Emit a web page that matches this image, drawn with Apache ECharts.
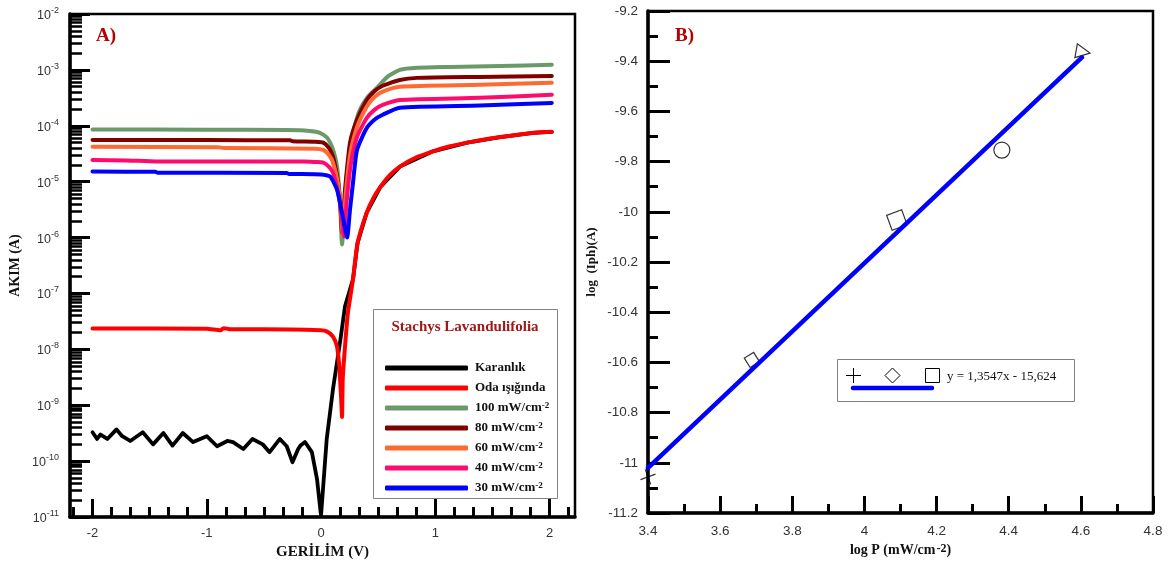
<!DOCTYPE html>
<html><head><meta charset="utf-8">
<script src="https://cdn.jsdelivr.net/npm/echarts@6/dist/echarts.min.js"></script>
<style>html,body{margin:0;padding:0;background:#fff}#c{width:1170px;height:565px}</style>
</head><body><div id="c"></div>
<script>
// ---------------- Panel A data (Voltage [V], Current [A]) ----------------
const darkIV = [[-2.00,3.3e-10],[-1.96,2.5e-10],[-1.93,3.0e-10],[-1.87,2.5e-10],[-1.79,3.7e-10],[-1.74,2.8e-10],[-1.67,2.3e-10],[-1.56,3.3e-10],[-1.47,2.0e-10],[-1.38,3.2e-10],[-1.30,1.9e-10],[-1.21,3.2e-10],[-1.12,2.2e-10],[-1.00,2.8e-10],[-0.91,1.85e-10],[-0.82,2.3e-10],[-0.77,2.2e-10],[-0.68,1.65e-10],[-0.60,2.5e-10],[-0.51,2.0e-10],[-0.45,1.45e-10],[-0.36,2.5e-10],[-0.30,1.85e-10],[-0.25,9.6e-11],[-0.20,1.65e-10],[-0.18,1.9e-10],[-0.14,2.2e-10],[-0.08,1.45e-10],[-0.035,4.8e-11],[0.0,1.05e-11],[0.05,2.5e-10],[0.105,1.95e-9],[0.17,1.5e-8],[0.21,5.9e-8],[0.28,1.8e-7],[0.32,8e-7],[0.40,2.8e-6],[0.52,8.1e-6],[0.69,1.86e-5],[0.98,3.5e-5],[1.28,5.0e-5],[1.57,6.3e-5],[1.86,7.5e-5],[2.02,7.8e-5]];
const roomIV = [[-2.0,2.37e-8],[-1.0,2.33e-8],[-0.88,2.2e-8],[-0.85,2.4e-8],[-0.8,2.3e-8],[-0.5,2.3e-8],[0.0,2.2e-8],[0.05,2.1e-8],[0.105,1.7e-8],[0.14,1.12e-8],[0.16,5e-9],[0.175,1.5e-9],[0.184,6.2e-10],[0.19,2.9e-9],[0.21,1.12e-8],[0.236,4.6e-8],[0.28,1.8e-7],[0.32,8e-7],[0.40,2.8e-6],[0.46,5.2e-6],[0.52,8.1e-6],[0.60,1.3e-5],[0.69,1.86e-5],[0.83,2.7e-5],[0.98,3.5e-5],[1.13,4.3e-5],[1.28,5.0e-5],[1.43,5.7e-5],[1.57,6.3e-5],[1.72,6.9e-5],[1.86,7.5e-5],[2.02,7.8e-5]];
const p100IV = [[-2.0,8.6e-5],[-1.0,8.5e-5],[-0.3,8.4e-5],[-0.1,8.1e-5],[-0.01,7.5e-5],[0.05,6.2e-5],[0.08,5.0e-5],[0.11,3.5e-5],[0.14,1.86e-5],[0.166,4.8e-6],[0.184,7.5e-7],[0.21,4.8e-6],[0.23,1.6e-5],[0.254,3.7e-5],[0.29,9e-5],[0.34,1.93e-4],[0.41,3.3e-4],[0.49,4.8e-4],[0.58,7.5e-4],[0.69,1.0e-3],[0.84,1.09e-3],[1.13,1.13e-3],[1.57,1.18e-3],[2.02,1.23e-3]];
const p80IV = [[-2.0,5.6e-5],[-1.0,5.55e-5],[-0.27,5.5e-5],[-0.25,5.3e-5],[-0.05,5.2e-5],[0.02,5.0e-5],[0.07,4.0e-5],[0.105,2.8e-5],[0.15,9.6e-6],[0.17,3.5e-6],[0.184,1.22e-6],[0.2,3.5e-6],[0.21,7.2e-6],[0.254,5.0e-5],[0.315,1.28e-4],[0.40,2.9e-4],[0.47,4.2e-4],[0.54,5.2e-4],[0.69,6.6e-4],[0.84,7.2e-4],[1.39,7.5e-4],[2.02,7.8e-4]];
const p60IV = [[-2.0,4.2e-5],[-0.9,4.15e-5],[-0.85,4.0e-5],[-0.05,3.9e-5],[0.02,3.7e-5],[0.07,3.0e-5],[0.105,2.2e-5],[0.15,8.9e-6],[0.175,3.0e-6],[0.19,1.1e-6],[0.205,3.0e-6],[0.22,7.2e-6],[0.254,3.0e-5],[0.315,9.5e-5],[0.40,2.2e-4],[0.47,3.3e-4],[0.54,4.1e-4],[0.69,5.0e-4],[1.39,5.4e-4],[2.02,5.9e-4]];
const p40IV = [[-2.0,2.45e-5],[-1.7,2.4e-5],[-1.44,2.3e-5],[-0.15,2.3e-5],[-0.05,2.25e-5],[0.02,2.2e-5],[0.07,1.85e-5],[0.105,1.45e-5],[0.15,6.3e-6],[0.18,2.5e-6],[0.2,1.05e-6],[0.215,2.5e-6],[0.23,5.9e-6],[0.26,2.0e-5],[0.315,6.3e-5],[0.40,1.38e-4],[0.47,1.95e-4],[0.54,2.37e-4],[0.69,2.9e-4],[1.39,3.16e-4],[2.02,3.58e-4]];
const p30IV = [[-2.0,1.52e-5],[-1.45,1.5e-5],[-1.43,1.45e-5],[-0.3,1.43e-5],[-0.28,1.38e-5],[0.0,1.35e-5],[0.08,1.23e-5],[0.14,7.2e-6],[0.184,2.8e-6],[0.228,1.0e-6],[0.254,3.2e-6],[0.28,9.6e-6],[0.315,3.7e-5],[0.40,9.1e-5],[0.47,1.3e-4],[0.54,1.58e-4],[0.69,2.1e-4],[1.39,2.3e-4],[2.02,2.57e-4]];
const seriesNamesA = ['Karanlık','Oda ışığında','100 mW/cm-2','80 mW/cm-2','60 mW/cm-2','40 mW/cm-2','30 mW/cm-2'];
const aXTicks = [-2,-1,0,1,2];
const aYTicks = [1e-11,1e-10,1e-9,1e-8,1e-7,1e-6,1e-5,1e-4,1e-3,1e-2];

// ---------------- Panel B data ----------------
const logP = [3.40, 3.688, 4.09, 4.381, 4.606];
const logIph = [-11.056, -10.59, -10.033, -9.754, -9.363];
const fitX = [3.40, 4.603];
const fitY = [-11.02, -9.385];
const fitLabel = 'y = 1,3547x - 15,624';

// ---------------- styling ----------------
const SERIF = 'Liberation Serif';
const SANS = 'Liberation Sans';
const colorsA = ['#000000','#ff0000','#6a9a6a','#800000','#ff6a33','#ff0a6e','#0000ff'];
const markerSymbols = ['path://M0,5L10,5M5,0L5,10','rect','rect','circle','triangle'];
const markerSizes = [16,11,16,16,14];
const markerRot = [20,32,20,0,-100];

const aXMinor = [];
for (let k = -13; k <= 13; k++) if (k % 6 !== 0) aXMinor.push(k/6);
const aYMinor = [];
for (let e = -11; e < -2; e++) for (let m = 2; m <= 9; m++) aYMinor.push(m*Math.pow(10,e));

const blackTick = {color:'#000', width:3};
const labelSans = {fontFamily:SANS, fontSize:13, color:'#333'};
const titleStyle = {fontFamily:SERIF, fontWeight:'bold', fontSize:14, color:'#111'};

const chart = echarts.init(document.getElementById('c'), null, {renderer:'canvas'});

const seriesA = [darkIV, roomIV, p100IV, p80IV, p60IV, p40IV, p30IV].map((d,i)=>({
  name: seriesNamesA[i], type:'line', xAxisIndex:0, yAxisIndex:0,
  data: d, symbol:'none', showSymbol:false, smooth: i===0 ? false : 0.2,
  lineStyle:{color:colorsA[i], width: i===0 ? 3.8 : 4, cap:'round', join:'round'},
  itemStyle:{color:colorsA[i]}, z: 2+i
}));

const option = {
  animation:false,
  backgroundColor:'#fff',
  grid:[
    {left:70, top:14, width:505, height:504, show:true, borderColor:'#000', borderWidth:2.5, backgroundColor:'transparent'},
    {left:648, top:11, width:505, height:502, show:true, borderColor:'#000', borderWidth:2.5, backgroundColor:'transparent'}
  ],
  xAxis:[
    {gridIndex:0, type:'value', min:-2.197, max:2.223, position:'bottom',
     axisLine:{show:true, onZero:false, lineStyle:{color:'#000', width:3.5}},
     axisTick:{show:true, inside:true, length:18, customValues:aXTicks, lineStyle:blackTick},
     axisLabel:Object.assign({customValues:aXTicks, margin:10}, labelSans),
     splitLine:{show:false},
     name:'GERİLİM (V)', nameLocation:'middle', nameGap:25,
     nameTextStyle:Object.assign({}, titleStyle, {fontSize:15})},
    {gridIndex:0, type:'value', min:-2.197, max:2.223, position:'bottom',
     axisLine:{show:false, onZero:false},
     axisTick:{show:true, inside:true, length:10, customValues:aXMinor, lineStyle:blackTick},
     axisLabel:{show:false}, splitLine:{show:false}},
    {gridIndex:1, type:'value', min:3.4, max:4.8, interval:0.2, position:'bottom',
     axisLine:{show:true, onZero:false, lineStyle:{color:'#000', width:3.5}},
     axisTick:{show:true, inside:true, length:17, lineStyle:blackTick},
     minorTick:{show:true, splitNumber:2, length:9, lineStyle:blackTick},
     axisLabel:Object.assign({margin:11}, labelSans, {fontSize:13.5}),
     splitLine:{show:false},
     name:'log P (mW/cm{sup|-2})', nameLocation:'middle', nameGap:27,
     nameTextStyle:Object.assign({}, titleStyle, {fontSize:14, rich:{sup:{fontFamily:SERIF, fontWeight:'bold', fontSize:12, verticalAlign:'top', padding:[0,0,0,1]}}})}
  ],
  yAxis:[
    {gridIndex:0, type:'log', logBase:10, min:1e-11, max:1e-2, position:'left',
     axisLine:{show:true, onZero:false, lineStyle:{color:'#000', width:3.5}},
     axisTick:{show:true, inside:true, length:20, customValues:aYTicks, lineStyle:blackTick},
     axisLabel:{customValues:aYTicks, margin:11,
       formatter:(v)=>'{b|10}{s|'+Math.round(Math.log10(v))+'}',
       rich:{b:{fontFamily:SANS, fontSize:12.5, color:'#333', lineHeight:16, verticalAlign:'bottom'},
             s:{fontFamily:SANS, fontSize:9, color:'#333', lineHeight:16, verticalAlign:'top'}}},
     splitLine:{show:false},
     name:'AKIM (A)', nameLocation:'middle', nameGap:48, nameTextStyle:titleStyle},
    {gridIndex:0, type:'log', logBase:10, min:1e-11, max:1e-2, position:'left',
     axisLine:{show:false, onZero:false},
     axisTick:{show:true, inside:true, length:12, customValues:aYMinor, lineStyle:{color:'#000', width:2.5}},
     axisLabel:{show:false}, splitLine:{show:false}},
    {gridIndex:1, type:'value', min:-11.2, max:-9.2, interval:0.2, position:'left',
     axisLine:{show:true, onZero:false, lineStyle:{color:'#000', width:3.5}},
     axisTick:{show:true, inside:true, length:22, lineStyle:blackTick},
     minorTick:{show:true, splitNumber:2, length:10, lineStyle:blackTick},
     axisLabel:Object.assign({margin:10}, labelSans, {fontSize:13.5}),
     splitLine:{show:false},
     name:'log  (Iph)(A)', nameLocation:'middle', nameGap:50, nameTextStyle:Object.assign({}, titleStyle, {fontSize:13})}
  ],
  legend:{
    show:true, orient:'vertical', left:380, top:356, z:20,
    data: seriesNamesA, icon:'roundRect', itemWidth:83, itemHeight:5, itemGap:6,
    selectedMode:false,
    formatter:(n)=> n.replace('-2','{sup|-2}'),
    textStyle:{fontFamily:SERIF, fontWeight:'bold', fontSize:13, color:'#111', lineHeight:14, padding:[0,0,0,2],
      rich:{sup:{fontFamily:SERIF, fontWeight:'bold', fontSize:9, lineHeight:14, verticalAlign:'top', color:'#111'}}}
  },
  graphic:[
    {type:'text', left:96, top:27, z:10, style:{text:'A)', font:'bold 19px "Liberation Serif"', fill:'#b50000'}},
    {type:'text', left:675, top:27, z:10, style:{text:'B)', font:'bold 19px "Liberation Serif"', fill:'#b50000'}},
    {type:'rect', z:10, shape:{x:373.5, y:309.5, width:184, height:189}, style:{fill:'#fff', stroke:'#808080', lineWidth:1}},
    {type:'text', z:11, x:465, y:327, style:{text:'Stachys Lavandulifolia', font:'bold 15px "Liberation Serif"', fill:'#a01818', textAlign:'center', textVerticalAlign:'middle'}},
    {type:'rect', z:10, shape:{x:837.5, y:359.5, width:237, height:42}, style:{fill:'#fff', stroke:'#808080', lineWidth:1}},
    {type:'line', z:11, shape:{x1:846, y1:375.5, x2:861, y2:375.5}, style:{stroke:'#000', lineWidth:1}},
    {type:'line', z:11, shape:{x1:853.5, y1:368, x2:853.5, y2:383}, style:{stroke:'#000', lineWidth:1}},
    {type:'polygon', z:11, shape:{points:[[892.5,368],[900,375.5],[892.5,383],[885,375.5]]}, style:{fill:'none', stroke:'#000', lineWidth:1}},
    {type:'rect', z:11, shape:{x:925.5, y:368.5, width:14, height:14}, style:{fill:'none', stroke:'#000', lineWidth:1}},
    {type:'text', z:11, x:947, y:377, style:{text:fitLabel, font:'13px "Liberation Serif"', fill:'#111', textVerticalAlign:'middle'}},
    {type:'line', z:11, shape:{x1:853, y1:388, x2:932, y2:388}, style:{stroke:'#0000ff', lineWidth:4.5, lineCap:'round'}}
  ],
  series: seriesA.concat([
    {type:'scatter', xAxisIndex:2, yAxisIndex:2, z:3,
     data: logP.map((x,i)=>({value:[x, logIph[i]], symbol:markerSymbols[i], symbolSize:markerSizes[i], symbolRotate:markerRot[i]})),
     itemStyle:{color:'rgba(0,0,0,0)', borderColor:'#000', borderWidth:1.2}},
    {type:'line', xAxisIndex:2, yAxisIndex:2, z:4, symbol:'none', showSymbol:false,
     data: fitX.map((x,i)=>[x, fitY[i]]),
     lineStyle:{color:'#0000ff', width:4.5, cap:'round'}}
  ])
};
chart.setOption(option);
</script></body></html>
